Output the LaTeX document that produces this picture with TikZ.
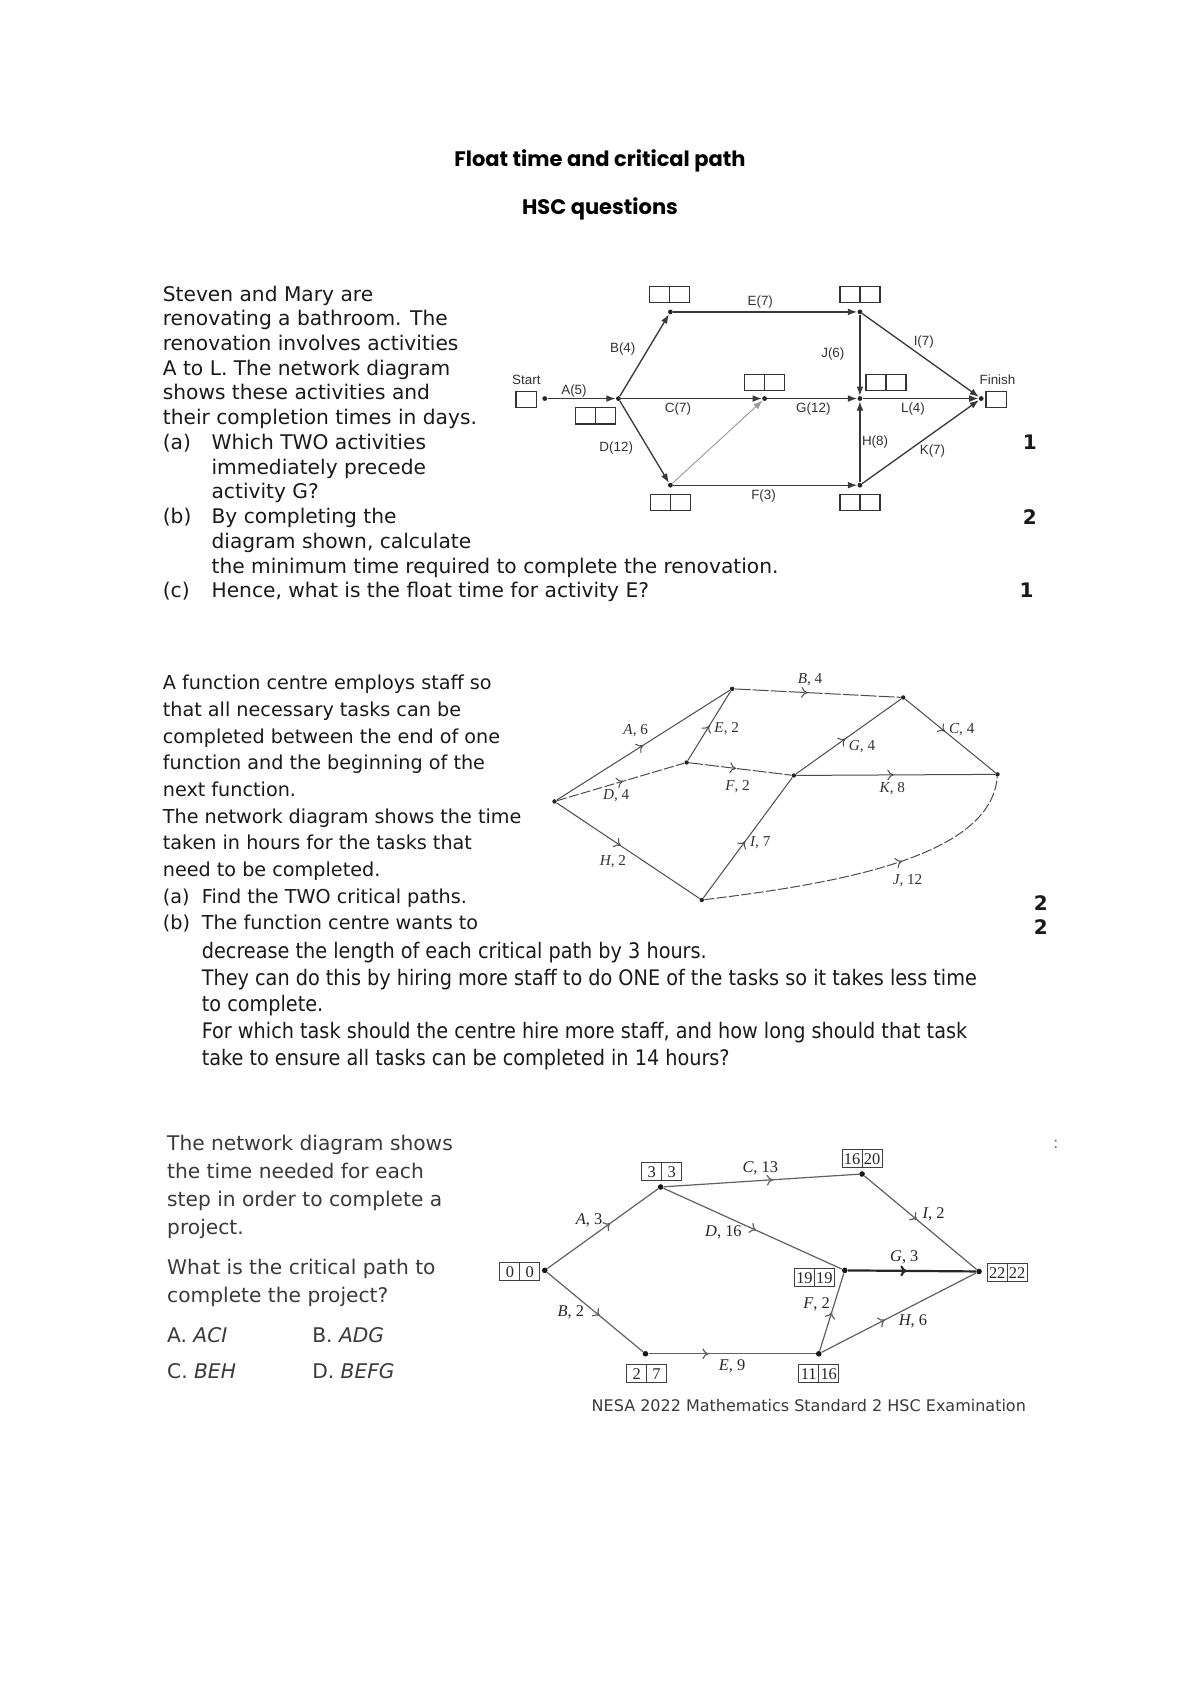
\documentclass[tikz,border=0pt]{standalone}
\usepackage{fontspec}
\usetikzlibrary{arrows.meta,decorations.markings,calc}
\setmainfont{DejaVu Sans}
\newfontfamily\verdc{DejaVu Sans Condensed}
\newfontfamily\arialf{Liberation Sans}
\newfontfamily\timesf{Liberation Serif}
\newfontfamily\titlef{Poppins}
\definecolor{ink}{HTML}{1A1A1A}
\definecolor{inkg}{HTML}{3A3A3A}
\newcommand\mytwocell[2]{\node[boxa] (#1) at #2 {}; \draw[boxdiv] (#1.north) -- (#1.south);}
\newcommand\mynumcell[4]{\node[boxc] (#1) at #2 {}; \draw[boxdivc] (#1.north) -- (#1.south);
  \node[numc] (#1l) at ($(#1.center)+(-9.2,0.6)$) {#3};
  \node[numc] (#1r) at ($(#1.center)+(9.2,0.6)$) {#4};}
\begin{document}
\begin{tikzpicture}[x=0.5415pt,y=-0.5415pt,
  pa/.style={anchor=base west,inner sep=0pt,font=\fontsize{10.1}{12}\selectfont,text=ink},
  pb/.style={anchor=base west,inner sep=0pt,font=\fontsize{9.6}{12}\selectfont,text=ink},
  pbc/.style={anchor=base west,inner sep=0pt,font=\verdc\fontsize{10.7}{12}\selectfont,text=ink},
  pc/.style={anchor=base west,inner sep=0pt,font=\fontsize{10.1}{12}\selectfont,text=inkg},
  mk/.style={anchor=base,inner sep=0pt,font=\bfseries\fontsize{10}{12}\selectfont,text=ink},
  ttl/.style={anchor=base,inner sep=0pt,font=\titlef\bfseries\fontsize{10.5}{12}\selectfont,text=black},
  laba/.style={inner sep=0pt,font=\arialf\fontsize{6.7}{8}\selectfont,text=black!80},
  labb/.style={inner sep=0pt,font=\timesf\fontsize{7.6}{9}\selectfont,text=black!80},
  labc/.style={inner sep=0pt,font=\timesf\fontsize{8.2}{9}\selectfont,text=black!85},
  numc/.style={inner sep=0pt,font=\timesf\fontsize{8.2}{9}\selectfont,text=black!85},
  dota/.style={circle,fill=black!85,inner sep=0pt,minimum size=2.4pt},
  dotb/.style={circle,fill=black!85,inner sep=0pt,minimum size=2.2pt},
  dotc/.style={circle,fill=black!90,inner sep=0pt,minimum size=2.8pt},
  ea/.style={draw=black!78,line width=0.65pt,-{Latex[length=4.6pt,width=3.4pt]}},
  eb/.style={draw=black!70,line width=0.5pt},
  ec/.style={draw=black!62,line width=0.6pt},
  dsh/.style={dash pattern=on 5pt off 1.2pt},
  boxa/.style={draw=black!80,line width=0.6pt,minimum width=20pt,minimum height=8.2pt,inner sep=0pt},
  sboxa/.style={boxa,minimum width=10.4pt},
  boxdiv/.style={draw=black!80,line width=0.6pt},
  boxc/.style={draw=black!75,line width=0.5pt,minimum width=20pt,minimum height=9pt,inner sep=0pt},
  boxdivc/.style={draw=black!75,line width=0.5pt},
  midarr/.style={postaction={decorate},decoration={markings,mark=at position #1 with {\arrow{To[length=3.2pt,width=5.4pt]}}}},
  midarr/.default=0.5
]
\useasboundingbox[fill=white] (0,0) rectangle (1108,1566);

% ---------- title ----------
\node[ttl] (title1) at (554,154) {Float time and critical path};
\node[ttl] (title2) at (554,198) {HSC questions};

% ---------- problem 1 text ----------
\node[pa] (a1) at (150,278) {Steven and Mary are};
\node[pa] (a2) at (150,300.8) {renovating a bathroom. The};
\node[pa] (a3) at (150,323.7) {renovation involves activities};
\node[pa] (a4) at (150,346.5) {A to L. The network diagram};
\node[pa] (a5) at (150,369.3) {shows these activities and};
\node[pa] (a6) at (150,392.2) {their completion times in days.};
\node[pa] (a7l) at (150,415) {(a)};
\node[pa] (a7) at (195,415) {Which TWO activities};
\node[pa] (a8) at (195,437.8) {immediately precede};
\node[pa] (a9) at (195,460.6) {activity G?};
\node[pa] (a10l) at (150,483.5) {(b)};
\node[pa] (a10) at (195,483.5) {By completing the};
\node[pa] (a11) at (195,506.3) {diagram shown, calculate};
\node[pa] (a12) at (195,529.1) {the minimum time required to complete the renovation.};
\node[pa] (a13l) at (150,552) {(c)};
\node[pa] (a13) at (195,552) {Hence, what is the float time for activity E?};
\node[mk] (m1) at (951,415) {1};
\node[mk] (m2) at (951,484) {2};
\node[mk] (m3) at (948,552) {1};

% ---------- diagram 1 ----------
\node[dota] (s0) at (503,368) {};
\node[dota] (n1) at (571,368) {};
\node[dota] (n2) at (619,288) {};
\node[dota] (n3) at (794,288) {};
\node[dota] (n4) at (706,368) {};
\node[dota] (n5) at (794,368) {};
\node[dota] (n6) at (619,448) {};
\node[dota] (n7) at (794,448) {};
\node[dota] (fin) at (906,368) {};
\draw[ea] (s0) -- (n1);
\draw[ea] (n1) -- (n2);
\draw[ea] (n2) -- (n3);
\draw[ea] (n1) -- (n4);
\draw[ea] (n1) -- (n6);
\draw[ea,draw=black!40,line width=0.45pt] (n6) -- (n4);
\draw[ea] (n4) -- (n5);
\draw[ea] (n6) -- (n7);
\draw[ea] (n3) -- (n5);
\draw[ea] (n7) -- (n5);
\draw[ea] (n3) -- (fin);
\draw[ea] (n5) -- (fin);
\draw[ea] (n7) -- (fin);
\node[sboxa] (sb) at (486,369) {};
\node[sboxa] (fb) at (920,369) {};
\mytwocell{b1}{(550,384)}
\mytwocell{b2}{(618.5,272)}
\mytwocell{b3}{(794,272)}
\mytwocell{b4}{(706,353)}
\mytwocell{b5}{(818,353)}
\mytwocell{b6}{(619,464)}
\mytwocell{b7}{(794,464)}
\node[laba] (lst) at (486,351) {Start};
\node[laba] (lfi) at (921,351) {Finish};
\node[laba] (lA) at (530,361) {A(5)};
\node[laba] (lB) at (575,322) {B(4)};
\node[laba] (lE) at (702,279) {E(7)};
\node[laba] (lJ) at (769,327) {J(6)};
\node[laba] (lI) at (853,316) {I(7)};
\node[laba] (lC) at (626,378) {C(7)};
\node[laba] (lG) at (751,378) {G(12)};
\node[laba] (lL) at (843,378) {L(4)};
\node[laba] (lD) at (569,414) {D(12)};
\node[laba] (lH) at (808,408) {H(8)};
\node[laba] (lK) at (861,416) {K(7)};
\node[laba] (lF) at (705,458) {F(3)};

% ---------- problem 2 text ----------
\node[pb] (c1) at (150,637) {A function centre employs staff so};
\node[pb] (c2) at (150,661.6) {that all necessary tasks can be};
\node[pb] (c3) at (150,686.2) {completed between the end of one};
\node[pb] (c4) at (150,710.8) {function and the beginning of the};
\node[pb] (c5) at (150,735.4) {next function.};
\node[pb] (c6) at (150,760) {The network diagram shows the time};
\node[pb] (c7) at (150,784.6) {taken in hours for the tasks that};
\node[pb] (c8) at (150,809.2) {need to be completed.};
\node[pb] (c9l) at (150,833.8) {(a)};
\node[pb] (c9) at (186,833.8) {Find the TWO critical paths.};
\node[pb] (c10l) at (150,858.4) {(b)};
\node[pb] (c10) at (186,858.4) {The function centre wants to};
\node[pbc] (c11) at (186,885) {decrease the length of each critical path by 3 hours.};
\node[pbc] (c12) at (186,909.7) {They can do this by hiring more staff to do ONE of the tasks so it takes less time};
\node[pbc] (c13) at (186,934.4) {to complete.};
\node[pbc] (c14) at (186,959.1) {For which task should the centre hire more staff, and how long should that task};
\node[pbc] (c15) at (186,983.8) {take to ensure all tasks can be completed in 14 hours?};
\node[mk] (m4) at (961,841) {2};
\node[mk] (m5) at (961,863) {2};

% ---------- diagram 2 ----------
\node[dotb] (k1) at (512,740) {};
\node[dotb] (k2) at (634,704) {};
\node[dotb] (k3) at (676,636) {};
\node[dotb] (k4) at (834,644) {};
\node[dotb] (k5) at (733,716) {};
\node[dotb] (k6) at (921,715) {};
\node[dotb] (k7) at (648,831) {};
\draw[eb,midarr=0.5] (k1) -- (k3);
\draw[eb,midarr=0.5] (k2) -- (k3);
\draw[eb,dsh,midarr=0.52] (k1) -- (k2);
\draw[eb,dash pattern=on 8pt off 1pt,midarr=0.44] (k3) -- (k4);
\draw[eb,dash pattern=on 7pt off 1pt,midarr=0.46] (k2) -- (k5);
\draw[eb,midarr=0.47] (k5) -- (k4);
\draw[eb,midarr=0.44] (k4) -- (k6);
\draw[eb,midarr=0.49] (k5) -- (k6);
\draw[eb,midarr=0.45] (k1) -- (k7);
\draw[eb,midarr=0.47] (k7) -- (k5);
\draw[eb,dsh,midarr=0.6] (k7) .. controls (780,815) and (915,790) .. (k6);
\node[labb] (kA) at (587,675) {\textit{A}, 6};
\node[labb] (kE) at (671,673) {\textit{E}, 2};
\node[labb] (kB) at (748,628) {\textit{B}, 4};
\node[labb] (kC) at (888,674) {\textit{C}, 4};
\node[labb] (kG) at (796,689) {\textit{G}, 4};
\node[labb] (kF) at (681,726) {\textit{F}, 2};
\node[labb] (kD) at (569,735) {\textit{D}, 4};
\node[labb] (kK) at (824,728) {\textit{K}, 8};
\node[labb] (kI) at (702,778) {\textit{I}, 7};
\node[labb] (kH) at (566,796) {\textit{H}, 2};
\node[labb] (kJ) at (838,813) {\textit{J}, 12};

% ---------- problem 3 text ----------
\node[pc] (d1) at (154,1062) {The network diagram shows};
\node[pc] (d2) at (154,1088) {the time needed for each};
\node[pc] (d3) at (154,1114) {step in order to complete a};
\node[pc] (d4) at (154,1140) {project.};
\node[pc] (d5) at (154,1177) {What is the critical path to};
\node[pc] (d6) at (154,1203) {complete the project?};
\node[pc] (d7) at (154,1240) {A. \textit{ACI}};
\node[pc] (d8) at (288,1240) {B. \textit{ADG}};
\node[pc] (d9) at (154,1273) {C. \textit{BEH}};
\node[pc] (d10) at (288,1273) {D. \textit{BEFG}};
\node[pc,font=\fontsize{8}{9}\selectfont,text=black!55] (colon) at (972,1060) {:};

% ---------- diagram 3 ----------
\node[dotc] (q0) at (503,1173) {};
\node[dotc] (q1) at (610,1096) {};
\node[dotc] (q2) at (796,1084) {};
\node[dotc] (q3) at (780,1173) {};
\node[dotc] (q4) at (904,1174) {};
\node[dotc] (q5) at (596,1250) {};
\node[dotc] (q6) at (756,1250) {};
\draw[ec,midarr=0.57] (q0) -- (q1);
\draw[ec,midarr=0.55] (q0) -- (q5);
\draw[ec,midarr=0.56] (q1) -- (q2);
\draw[ec,midarr=0.52] (q1) -- (q3);
\draw[ec,midarr=0.36] (q5) -- (q6);
\draw[ec,midarr=0.5] (q6) -- (q3);
\draw[ec,draw=black!85,line width=1.1pt,midarr=0.46] (q3) -- (q4);
\draw[ec,midarr=0.41] (q6) -- (q4);
\draw[ec,midarr=0.47] (q2) -- (q4);
\mynumcell{r0}{(480,1174)}{0}{0}
\mynumcell{r1}{(611,1082)}{3}{3}
\mynumcell{r2}{(796,1070)}{16}{20}
\mynumcell{r3}{(752,1180)}{19}{19}
\mynumcell{r4}{(930,1175)}{22}{22}
\mynumcell{r5}{(597,1268)}{2}{7}
\mynumcell{r6}{(756,1268)}{11}{16}
\node[labc] (qA) at (544,1127) {\textit{A}, 3};
\node[labc] (qD) at (668,1138) {\textit{D}, 16};
\node[labc] (qC) at (702,1079) {\textit{C}, 13};
\node[labc] (qI) at (862,1121) {\textit{I}, 2};
\node[labc] (qG) at (835,1161) {\textit{G}, 3};
\node[labc] (qF) at (754,1204) {\textit{F}, 2};
\node[labc] (qH) at (843,1220) {\textit{H}, 6};
\node[labc] (qB) at (527,1212) {\textit{B}, 2};
\node[labc] (qE) at (676,1262) {\textit{E}, 9};
\node[anchor=base west,inner sep=0pt,font=\fontsize{8}{9}\selectfont,text=inkg] (nesa) at (546,1303) {NESA 2022 Mathematics Standard 2 HSC Examination};
\end{tikzpicture}
\end{document}
